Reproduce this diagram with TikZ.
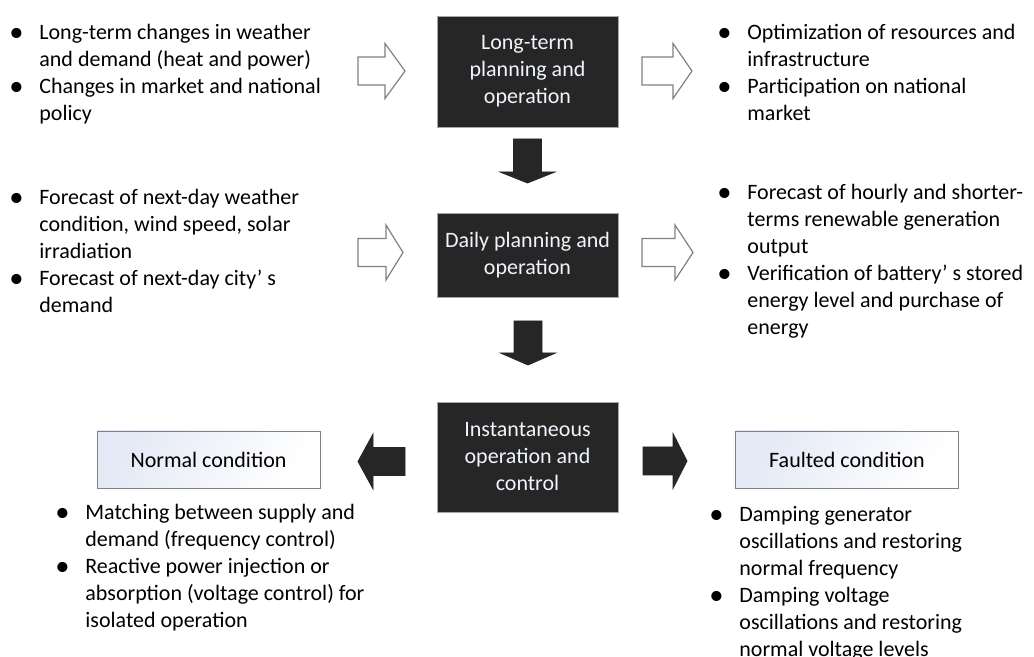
\documentclass[tikz,border=0pt]{standalone}
\usepackage{fontspec}
\setmainfont{Carlito}
\usepackage{xcolor}
\definecolor{darkbox}{RGB}{38,38,38}
\definecolor{boxtext}{RGB}{240,244,252}
\definecolor{edge}{RGB}{128,128,128}
\definecolor{paleblue}{RGB}{228,233,245}
\newcommand{\bl}{\hspace*{-2.5pt}\raisebox{-0.6pt}{\scalebox{1.3}{\textbullet}}}
\newcommand{\blockarrow}[5]{%
  \filldraw[#1,shift={(#2)},rotate=#3] (-#4/2,-14) -- (#4/2-#5,-14) -- (#4/2-#5,-27.5) -- (#4/2,0)
    -- (#4/2-#5,27.5) -- (#4/2-#5,14) -- (-#4/2,14) -- cycle;}
\tikzstyle{stage}=[draw=edge!70,fill=darkbox,text=boxtext,align=center,minimum width=90.5pt,inner sep=0pt]
\tikzstyle{cond}=[draw=edge,left color=paleblue,right color=white,shading angle=60,minimum width=111.5pt,minimum height=28.5pt,inner sep=0pt]
\tikzstyle{note}=[anchor=base west,inner sep=0pt,align=left]
\tikzstyle{hollow}=[draw=edge,fill=white,line width=0.6pt]
\tikzstyle{solid}=[draw=darkbox,fill=darkbox]
\begin{document}
\begin{tikzpicture}[x=0.5pt,y=-0.5pt,font=\fontsize{11}{13.5}\selectfont]
  \useasboundingbox (0,0) rectangle (1034,657);
  %% Stages
  \draw (527.5,71.5) node[stage,minimum height=55.5pt] (longterm) {Long-term\\planning and\\operation};
  \draw (527.5,255) node[stage,minimum height=42pt] (daily) {Daily planning and\\operation};
  \draw (527.5,457) node[stage,minimum height=55pt] (instant) {Instantaneous\\operation and\\control};

  \draw (208.5,459.5) node[cond] (normal) {Normal condition};
  \draw (847,459.5) node[cond] (faulted) {Faulted condition};

  %% Inputs and outputs
  \draw (14,40) node[note] (ltin) {\begin{tabular}[t]{@{}p{12.5pt}@{}l@{}}
    \bl & Long-term changes in weather\\ & and demand (heat and power)\\
    \bl & Changes in market and national\\ & policy\end{tabular}};
  \draw (722,40) node[note] (ltout) {\begin{tabular}[t]{@{}p{12.5pt}@{}l@{}}
    \bl & Optimization of resources and\\ & infrastructure\\
    \bl & Participation on national\\ & market\end{tabular}};
  \draw (14,205) node[note] (dyin) {\begin{tabular}[t]{@{}p{12.5pt}@{}l@{}}
    \bl & Forecast of next-day weather\\ & condition, wind speed, solar\\ & irradiation\\
    \bl & Forecast of next-day city' s\\ & demand\end{tabular}};
  \draw (722,200) node[note] (dyout) {\begin{tabular}[t]{@{}p{12.5pt}@{}l@{}}
    \bl & Forecast of hourly and shorter-\\ & terms renewable generation\\ & output\\
    \bl & Verification of battery' s stored\\ & energy level and purchase of\\ & energy\end{tabular}};
  \draw (60,520) node[note] (nrmnote) {\begin{tabular}[t]{@{}p{12.5pt}@{}l@{}}
    \bl & Matching between supply and\\ & demand (frequency control)\\
    \bl & Reactive power injection or\\ & absorption (voltage control) for\\ & isolated operation\end{tabular}};
  \draw (714,522) node[note] (fltnote) {\begin{tabular}[t]{@{}p{12.5pt}@{}l@{}}
    \bl & Damping generator\\ & oscillations and restoring\\ & normal frequency\\
    \bl & Damping voltage\\ & oscillations and restoring\\ & normal voltage levels\end{tabular}};

  %% Block arrows
  \blockarrow{hollow}{381.5,71}{0}{47}{20}
  \blockarrow{hollow}{667,71}{0}{50}{19}
  \blockarrow{hollow}{380.5,252.5}{0}{45}{17}
  \blockarrow{hollow}{667.5,252.5}{0}{51}{18}
  \blockarrow{solid}{527.5,161}{-90}{44}{11}
  \blockarrow{solid}{528,343}{-90}{44}{12}
  \blockarrow{solid}{381.5,461.5}{180}{47}{15}
  \blockarrow{solid}{665,461}{0}{44}{14}
\end{tikzpicture}
\end{document}
